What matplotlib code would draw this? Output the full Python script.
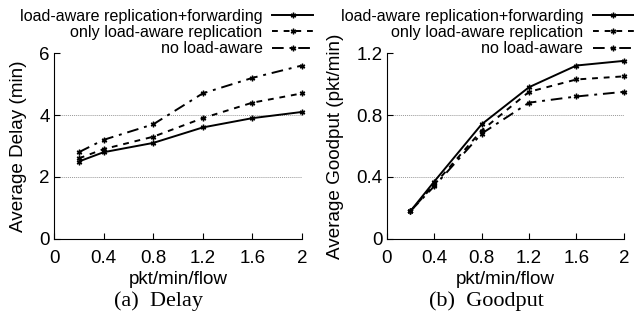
import matplotlib
matplotlib.use('Agg')
import matplotlib.pyplot as plt

# ============================= DATOS =================================
rates = [0.2, 0.4, 0.8, 1.2, 1.6, 2.0]
series_names = ['load-aware replication+forwarding',
                'only load-aware replication',
                'no load-aware']

delay_fwd = [2.5, 2.8, 3.1, 3.6, 3.9, 4.1]
delay_rep = [2.6, 2.9, 3.3, 3.9, 4.4, 4.7]
delay_none = [2.8, 3.2, 3.7, 4.7, 5.2, 5.6]

good_fwd = [0.18, 0.37, 0.74, 0.98, 1.12, 1.15]
good_rep = [0.18, 0.35, 0.70, 0.95, 1.03, 1.05]
good_none = [0.18, 0.34, 0.68, 0.88, 0.92, 0.95]

x_ticks = [0, 0.4, 0.8, 1.2, 1.6, 2]
x_ticklabels = ['0', '0.4', '0.8', '1.2', '1.6', '2']
delay_ticks = [0, 2, 4, 6]
delay_ticklabels = ['0', '2', '4', '6']
good_ticks = [0, 0.4, 0.8, 1.2]
good_ticklabels = ['0', '0.4', '0.8', '1.2']

# ============================= ESTILO =================================
plt.rcParams['font.family'] = ['Liberation Sans', 'DejaVu Sans']
dash_list = [None, (3, 3), (6, 3, 1.5, 3)]
mk = dict(marker=(6, 2, 0), markersize=4, markeredgewidth=1.0, color='black', linewidth=1.4)

fig = plt.figure(figsize=(6.34, 3.22), dpi=100)
ax1 = fig.add_axes([0.0852, 0.258, 0.391, 0.577])
ax2 = fig.add_axes([0.610, 0.258, 0.374, 0.577])


def panel(ax, ys, yticks, ylabels, ylabel, caption, cx, legend_x):
    lines = []
    for y, d in zip(ys, dash_list):
        if d:
            ln, = ax.plot(rates, y, dashes=d, clip_on=False, **mk)
        else:
            ln, = ax.plot(rates, y, linestyle='-', clip_on=False, **mk)
        lines.append(ln)
    ax.set_xlim(0, 2)
    ax.set_ylim(yticks[0], yticks[-1])
    ax.set_xticks(x_ticks)
    ax.set_xticklabels(x_ticklabels)
    ax.set_yticks(yticks)
    ax.set_yticklabels(ylabels)
    # rejilla solo en los ticks interiores
    for t in yticks[1:-1]:
        ax.axhline(t, color='#999999', linestyle=(0, (1, 1)), linewidth=0.7, zorder=0)
    for s in ['top', 'right']:
        ax.spines[s].set_visible(False)
    ax.tick_params(direction='in', length=4, labelsize=13.5)
    ax.tick_params(axis='x', pad=8)
    ax.tick_params(axis='y', pad=3)
    ax.set_xlabel('pkt/min/flow', fontsize=13.6, labelpad=3)
    ax.set_ylabel(ylabel, fontsize=13.6, labelpad=9)
    fig.text(cx, 0.066, caption, ha='center', va='center', fontsize=16,
             family=['Liberation Serif', 'DejaVu Serif'])
    fig.legend(lines, series_names, loc='upper right', bbox_to_anchor=(legend_x, 0.973),
               frameon=False, markerfirst=False, numpoints=1, handlelength=2.55,
               handletextpad=0.6, labelspacing=0.08, fontsize=11.6,
               borderpad=0, borderaxespad=0)


panel(ax1, [delay_fwd, delay_rep, delay_none], delay_ticks, delay_ticklabels,
      'Average Delay (min)', '(a)  Delay', 0.25, 0.494)
panel(ax2, [good_fwd, good_rep, good_none], good_ticks, good_ticklabels,
      'Average Goodput (pkt/min)', '(b)  Goodput', 0.768, 1.0)

fig.savefig('out.png', dpi=100)
